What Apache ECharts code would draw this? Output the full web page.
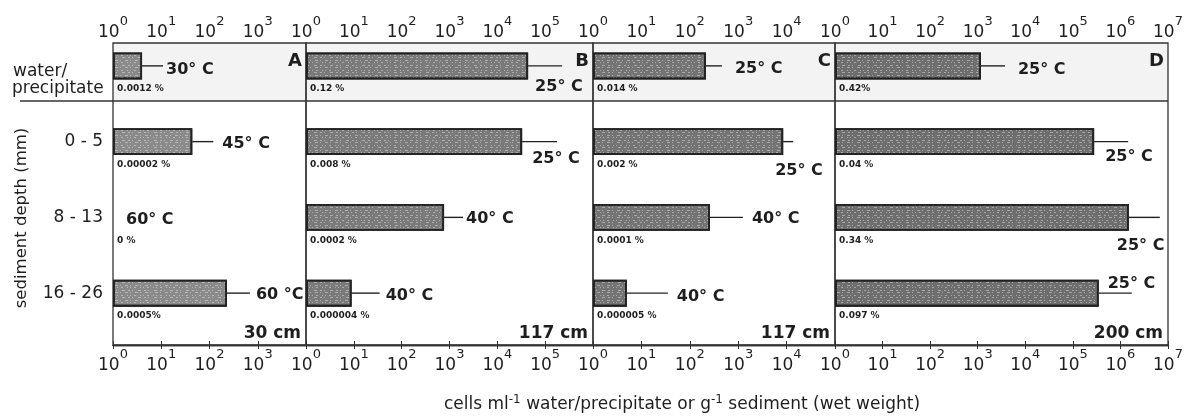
<!DOCTYPE html>
<html>
<head>
<meta charset="utf-8">
<script src="https://cdn.jsdelivr.net/npm/echarts@6/dist/echarts.min.js"></script>
<style>
  html, body { margin: 0; padding: 0; background: #fff; }
  #chart { width: 1195px; height: 418px; }
</style>
</head>
<body>
<div id="chart"></div>
<script>
// rows, top to bottom
const rows = ['water/precipitate', '0 - 5', '8 - 13', '16 - 26'];

// cells per ml water/precipitate or per g sediment
const cellsA = [4, 44, null, 230];
const cellsB = [44000, 33000, 770, 9];
const cellsC = [215, 8500, 260, 5];
const cellsD = [1170, 280000, 1500000, 350000];

// incubation temperature
const tempA = ['30° C', '45° C', '60° C', '60 °C'];
const tempB = ['25° C', '25° C', '40° C', '40° C'];
const tempC = ['25° C', '25° C', '40° C', '40° C'];
const tempD = ['25° C', '25° C', '25° C', '25° C'];

// share of total count
const pctA = ['0.0012 %', '0.00002 %', '0 %', '0.0005%'];
const pctB = ['0.12 %', '0.008 %', '0.0002 %', '0.000004 %'];
const pctC = ['0.014 %', '0.002 %', '0.0001 %', '0.000005 %'];
const pctD = ['0.42%', '0.04 %', '0.34 %', '0.097 %'];

const panelNames = ['A', 'B', 'C', 'D'];
const coreDepth = ['30 cm', '117 cm', '117 cm', '200 cm'];
// each panel axis runs 10^0 .. 10^maxExp
const maxExp = [4, 6, 5, 7];

// ---- layout ----
const FONT = 'DejaVu Sans';
const INK = '#1e1e1e';
const panelLeft = [113, 306, 593, 835];
const panelWidth = [193, 287, 242, 333];
const frameTop = 43, frameH = 302;
const barTop = 28, barH = 303;
const barColors = ['#8a8a8a', '#7a7a7a', '#747474', '#6e6e6e'];
// temperature label: [leader length, text dx from bar end, text dy]
const tempPos = [
  [[21, 24, 4], [21, 30, 2], [0, 13, 2], [23, 29, 2]],
  [[34, 7, 21], [35, 10, 17], [19, 22, 1], [28, 34, 3]],
  [[16, 29, 3], [10, -8, 29], [33, 42, 1], [41, 50, 4]],
  [[24, 37, 4], [34, 11, 15], [31, -12, 28], [33, 9, -9]]
];

const cells = [cellsA, cellsB, cellsC, cellsD];
const temps = [tempA, tempB, tempC, tempD];
const pcts = [pctA, pctB, pctC, pctD];

const chart = echarts.init(document.getElementById('chart'), null, { renderer: 'canvas' });

const expLabel = {
  formatter: v => '{b|10}{s|' + Math.round(Math.log10(v)) + '}',
  rich: {
    b: { fontSize: 17, fontFamily: FONT, color: INK, lineHeight: 26, verticalAlign: 'bottom' },
    s: { fontSize: 13, fontFamily: FONT, color: INK, verticalAlign: 'top', lineHeight: 13 }
  }
};

const grid = [], xAxis = [], yAxis = [], series = [];

// frame grids (0-3): border + top/bottom log axes
for (let p = 0; p < 4; p++) {
  grid.push({
    left: panelLeft[p], width: panelWidth[p], top: frameTop, height: frameH,
    show: true, borderColor: '#333', borderWidth: 1.3, backgroundColor: 'transparent',
    outerBoundsMode: 'none'
  });
}
// bar grids (4-7)
for (let p = 0; p < 4; p++) {
  grid.push({
    left: panelLeft[p], width: panelWidth[p], top: barTop, height: barH,
    show: false, outerBoundsMode: 'none'
  });
}

for (let p = 0; p < 4; p++) {
  ['top', 'bottom'].forEach(pos => {
    xAxis.push({
      type: 'log', logBase: 10, gridIndex: p, position: pos,
      min: 1, max: Math.pow(10, maxExp[p]),
      axisLine: { show: true, lineStyle: { color: '#333', width: 1.3 } },
      axisTick: { show: true, inside: true, length: 4, lineStyle: { color: '#333' } },
      splitLine: { show: false },
      axisLabel: Object.assign({
        margin: pos === 'top' ? 2 : 3,
        showMinLabel: true,
        showMaxLabel: p === 3
      }, expLabel)
    });
  });
  xAxis.push({
    type: 'log', logBase: 10, gridIndex: 4 + p,
    min: 1, max: Math.pow(10, maxExp[p]), show: false
  });
}

for (let p = 0; p < 4; p++) {
  yAxis.push({ type: 'value', gridIndex: p, show: false });
}
for (let p = 0; p < 4; p++) {
  yAxis.push({
    type: 'category', gridIndex: 4 + p, data: rows, inverse: true,
    axisLine: { show: false }, axisTick: { show: false }, splitLine: { show: false },
    axisLabel: {
      show: p === 0, margin: 10, fontSize: 17, fontFamily: FONT, color: INK,
      formatter: (v, i) => (i === 0 ? '' : v)
    }
  });
}

for (let p = 0; p < 4; p++) {
  series.push({
    type: 'bar', name: panelNames[p],
    xAxisIndex: p * 3 + 2, yAxisIndex: 4 + p,
    data: cells[p].map(v => (v == null ? '-' : v)),
    barWidth: 27,
    itemStyle: {
      color: barColors[p], borderColor: '#222', borderWidth: 1.8,
      decal: {
        symbol: 'rect', symbolSize: 1, color: 'rgba(255,255,255,0.38)',
        dashArrayX: [[1, 3, 2, 4, 1, 2], [2, 2, 1, 5, 3, 3], [1, 4, 3, 2]], dashArrayY: [1, 1, 1, 2],
        rotation: 0
      }
    },
    silent: true
  });
}

chart.setOption({
  animation: false,
  backgroundColor: '#fff',
  grid, xAxis, yAxis, series
});

// ---- annotations ----
const rightEdge = panelLeft[3] + panelWidth[3];
const g = [
  { type: 'rect', z: -1, shape: { x: panelLeft[0], y: frameTop, width: rightEdge - panelLeft[0], height: 58 },
    style: { fill: '#f3f3f3' }, silent: true },
  { type: 'line', shape: { x1: 20, y1: frameTop + 58, x2: rightEdge, y2: frameTop + 58 },
    style: { stroke: '#333', lineWidth: 1.3 }, silent: true },
  { type: 'text', x: 13, y: 72, style: { text: 'water/', font: '17px "' + FONT + '"', fill: INK, verticalAlign: 'middle' } },
  { type: 'text', x: 12, y: 89, style: { text: 'precipitate', font: '17px "' + FONT + '"', fill: INK, verticalAlign: 'middle' } },
  { type: 'text', x: 22, y: 218, rotation: Math.PI / 2,
    style: { text: 'sediment depth (mm)', font: '16.5px "' + FONT + '"', fill: INK, align: 'center', verticalAlign: 'middle' } },
  { type: 'text', x: 682, y: 405,
    style: {
      text: 'cells ml{s|-1} water/precipitate or g{s|-1} sediment (wet weight)',
      font: '17px "' + FONT + '"', fill: INK, align: 'center', verticalAlign: 'middle', lineHeight: 22,
      rich: { s: { fontSize: 12, fontFamily: FONT, fill: INK, verticalAlign: 'top', lineHeight: 12 } }
    } }
];

for (let p = 0; p < 4; p++) {
  const r = panelLeft[p] + panelWidth[p];
  g.push({ type: 'text', x: r - 4, y: 61,
    style: { text: panelNames[p], font: 'bold 18px "' + FONT + '"', fill: INK, align: 'right', verticalAlign: 'middle' } });
  g.push({ type: 'text', x: r - 5, y: 334,
    style: { text: coreDepth[p], font: 'bold 17px "' + FONT + '"', fill: INK, align: 'right', verticalAlign: 'middle' } });

  cells[p].forEach((v, i) => {
    const base = chart.convertToPixel({ gridIndex: 4 + p }, [1, i]);
    const x0 = base[0], y = base[1];
    const end = v == null ? x0 : chart.convertToPixel({ gridIndex: 4 + p }, [v, i])[0];
    const [len, tx, ty] = tempPos[p][i];
    if (len) {
      g.push({ type: 'line', shape: { x1: end, y1: y, x2: end + len, y2: y },
        style: { stroke: '#222', lineWidth: 1.4 }, silent: true });
    }
    g.push({ type: 'text', x: end + tx, y: y + ty,
      style: { text: temps[p][i], font: 'bold 16px "' + FONT + '"', fill: INK, verticalAlign: 'middle' } });
    g.push({ type: 'text', x: x0 + 4, y: y + 23,
      style: { text: pcts[p][i], font: 'bold 9px "' + FONT + '"', fill: INK, verticalAlign: 'middle' } });
  });
}

chart.setOption({ graphic: g });
</script>
</body>
</html>
